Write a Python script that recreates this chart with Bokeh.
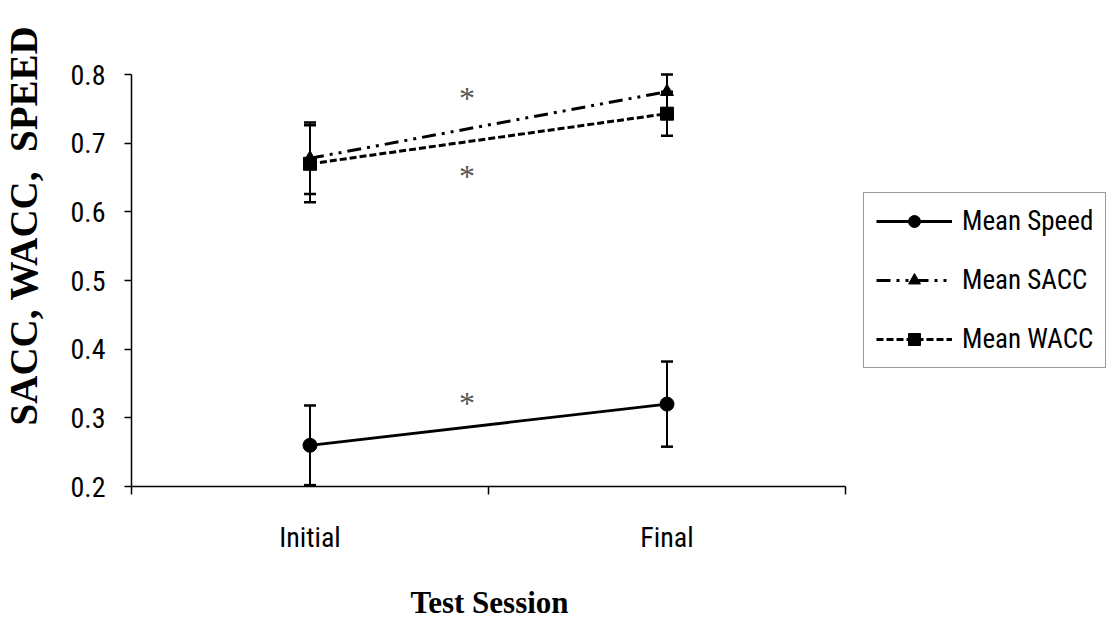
import math
from bokeh.plotting import figure
from bokeh.models import (Range1d, FixedTicker, Whisker, ColumnDataSource, Legend,
                          LegendItem, TeeHead, Label)
from bokeh.core.properties import value
from bokeh.embed import file_html
from bokeh.resources import INLINE

# ---- data ----
sessions = ["Initial", "Final"]
session_x = [0.5, 1.5]
speed_mean = [0.26, 0.32]
speed_err = [0.058, 0.062]
sacc_mean = [0.678, 0.775]
sacc_err = [0.052, 0.025]
wacc_mean = [0.670, 0.743]
wacc_err = [0.056, 0.032]
y_ticks = [0.2, 0.3, 0.4, 0.5, 0.6, 0.7, 0.8]
star_x = [0.94, 0.94, 0.94]
star_y = [0.766, 0.652, 0.322]

SANS = "'Liberation Sans Narrow', 'Roboto Condensed', 'Liberation Sans'"
SERIF = "'Liberation Serif'"

W, H = 1110, 619
p = figure(width=W, height=H, output_backend="svg", toolbar_location=None,
           x_range=Range1d(-0.36695, 2.7423), y_range=Range1d(0.00632, 0.9078),
           min_border_left=0, min_border_right=0, min_border_top=0,
           min_border_bottom=0)
p.outline_line_color = None
p.xgrid.visible = False
p.ygrid.visible = False
p.background_fill_color = "white"

# x axis
p.xaxis.fixed_location = 0.2
p.xaxis.bounds = (0, 2)
p.xaxis.ticker = FixedTicker(ticks=session_x, minor_ticks=[0, 1, 2])
p.xaxis.major_label_overrides = {x: s for x, s in zip(session_x, sessions)}
p.xaxis.major_tick_out = 0
p.xaxis.major_tick_in = 0
p.xaxis.minor_tick_out = 8
p.xaxis.minor_tick_in = 0
p.xaxis.axis_line_width = 1.5
p.xaxis.minor_tick_line_width = 1.5
p.xaxis.major_label_text_font = SANS
p.xaxis.major_label_text_font_size = "28px"
p.xaxis.major_label_text_color = "black"
p.xaxis.major_label_standoff = 26

# y axis
p.yaxis.fixed_location = 0
p.yaxis.bounds = (0.2, 0.8)
p.yaxis.ticker = FixedTicker(ticks=y_ticks)
p.yaxis.major_tick_out = 7
p.yaxis.major_tick_in = 0
p.yaxis.minor_tick_out = 0
p.yaxis.minor_tick_in = 0
p.yaxis.axis_line_width = 1.5
p.yaxis.major_tick_line_width = 1.5
p.yaxis.major_label_text_font = SANS
p.yaxis.major_label_text_font_size = "28px"
p.yaxis.major_label_text_color = "black"
p.yaxis.major_label_standoff = 19

# axis titles (screen units, measured from bottom-left)
p.add_layout(Label(text="Test Session", x=489, y=H - 602, x_units="screen",
                   y_units="screen", text_align="center", text_baseline="middle",
                   text_font=SERIF, text_font_style="bold", text_font_size="31px",
                   text_color="black"))
p.add_layout(Label(text="SACC, WACC,\u00a0\u00a0SPEED", x=23, y=H - 225,
                   x_units="screen", y_units="screen", angle=math.pi / 2,
                   text_align="center", text_baseline="middle",
                   text_font=SERIF, text_font_style="bold", text_font_size="39px",
                   text_color="black"))

def add_err(mean, err):
    src = ColumnDataSource(dict(x=session_x,
                                upper=[m + e for m, e in zip(mean, err)],
                                lower=[m - e for m, e in zip(mean, err)]))
    w = Whisker(source=src, base="x", upper="upper", lower="lower",
                line_width=2, line_color="black",
                upper_head=TeeHead(size=12, line_width=2.5, line_color="black"),
                lower_head=TeeHead(size=12, line_width=2.5, line_color="black"))
    p.add_layout(w)

add_err(speed_mean, speed_err)
add_err(sacc_mean, sacc_err)
add_err(wacc_mean, wacc_err)

l1 = p.line(session_x, speed_mean, line_color="black", line_width=2.8)
m1 = p.scatter(session_x, speed_mean, marker="circle", size=14, color="black")
l2 = p.line(session_x, sacc_mean, line_color="black", line_width=3, line_dash="14 6 3 6 3 6")
m2 = p.scatter(session_x, sacc_mean, marker="triangle", size=13, color="black")
l3 = p.line(session_x, wacc_mean, line_color="black", line_width=3, line_dash="7 3")
m3 = p.scatter(session_x, wacc_mean, marker="square", size=13, color="black")

p.text(star_x, star_y, text=["*", "*", "*"], text_font=value(SERIF),
       text_font_size="32px", text_color="#555555", text_align="center",
       text_baseline="middle")

legend = Legend(items=[LegendItem(label="Mean Speed", renderers=[l1, m1]),
                       LegendItem(label="Mean SACC", renderers=[l2, m2]),
                       LegendItem(label="Mean WACC", renderers=[l3, m3])],
                location=(863, H - 368), orientation="vertical",
                border_line_color="#333333", border_line_width=1.5,
                background_fill_color="white", background_fill_alpha=1,
                label_text_font=SANS, label_text_font_size="27px",
                label_text_color="black",
                glyph_width=76, glyph_height=30, label_height=30,
                spacing=27, padding=12, margin=0, label_standoff=10)
p.add_layout(legend, "center")

open("out.html", "w").write(file_html(p, INLINE))
